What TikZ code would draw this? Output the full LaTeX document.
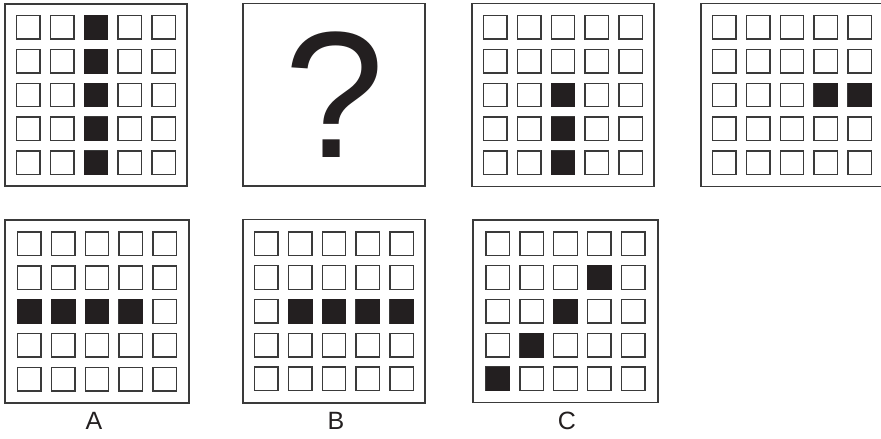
\documentclass[tikz,border=0pt]{standalone}
\usepackage{fontspec}
\setmainfont{Liberation Sans}
\definecolor{ink}{HTML}{231F20}
\definecolor{edge}{HTML}{3A3A3A}
\tikzset{
  panelbox/.style={draw=edge, line width=1.2pt, fill=white},
  cellbox/.style={draw=edge, line width=1.4pt, fill=white},
  fullcell/.style={draw=ink, line width=0.6pt, fill=ink},
  lbl/.style={inner sep=0pt, font=\fontsize{25}{25}\selectfont, text=ink},
}
% #1 x, #2 y, #3 width, #4 height, #5 list of filled cells c/r
\newcommand{\gridpanel}[5]{%
  \draw[panelbox] (#1,#2) rectangle ++(#3,#4);
  \foreach \c in {0,...,4}{
    \foreach \r in {0,...,4}{
      \draw[cellbox] ({#1+#3/2-79.35+\c*33.8},{#2+#4/2-79.35+\r*33.8}) rectangle ++(23.5,23.5);
    }
  }
  \foreach \c/\r in {#5}{
    \draw[fullcell] ({#1+#3/2-79.35+\c*33.8},{#2+#4/2-79.35+\r*33.8}) rectangle ++(23.5,23.5);
  }
}
\begin{document}
\begin{tikzpicture}[x=1pt,y=-1pt]
\useasboundingbox (0,0) rectangle (881,439);
\begin{scope}
\clip (0,0) rectangle (881,439);
% top row
\gridpanel{5}{4}{182}{182}{2/0,2/1,2/2,2/3,2/4}
\draw[panelbox] (243,3.5) rectangle ++(182,182.5);
\node[inner sep=0pt, font=\fontsize{180}{180}\selectfont, text=ink] (q) at (335,95) {?};
\gridpanel{472}{3.5}{182}{183}{2/2,2/3,2/4}
\gridpanel{701}{3.5}{182}{183}{3/2,4/2}
% bottom row
\gridpanel{5}{220}{184}{183}{0/2,1/2,2/2,3/2}
\gridpanel{243}{219.5}{182}{183.5}{1/2,2/2,3/2,4/2}
\gridpanel{473}{220}{185}{182.5}{0/4,1/3,2/2,3/1}
\end{scope}
\node[lbl] (la) at (94,421) {A};
\node[lbl] (lb) at (336,421) {B};
\node[lbl] (lc) at (567,421) {C};
\end{tikzpicture}
\end{document}
